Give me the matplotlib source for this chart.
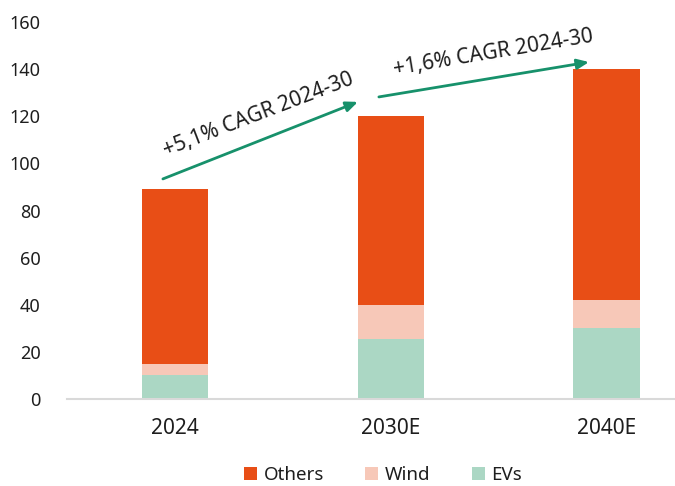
import matplotlib
matplotlib.use("Agg")
import matplotlib.pyplot as plt

categories = ["2024", "2030E", "2040E"]
evs = [10, 25.5, 30]
wind = [5, 14.5, 12]
others = [74, 80, 98]
yticks = [0, 20, 40, 60, 80, 100, 120, 140, 160]
cagr_labels = ["+5,1% CAGR 2024-30", "+1,6% CAGR 2024-30"]

c_others = "#E84E16"
c_wind = "#F7C8B8"
c_evs = "#ABD7C4"
c_arrow = "#17916B"
c_text = "#1E1E1E"

plt.rcParams['font.family'] = ['Noto Sans', 'DejaVu Sans']

fig = plt.figure(figsize=(6.75, 4.86), dpi=100)
ax = fig.add_axes([67 / 675, 87 / 486, 608 / 675, 377 / 486])

x = list(range(len(categories)))
w = 0.31
b1 = ax.bar(x, evs, w, color=c_evs, label="EVs", zorder=2)
b2 = ax.bar(x, wind, w, bottom=evs, color=c_wind, label="Wind", zorder=2)
bot2 = [a + b for a, b in zip(evs, wind)]
b3 = ax.bar(x, others, w, bottom=bot2, color=c_others, label="Others", zorder=2)

ax.set_xlim(-0.5, 2.315)
ax.set_ylim(0, 160)
ax.set_yticks(yticks)
ax.set_yticklabels([str(v) for v in yticks], fontsize=13, color=c_text)
ax.set_xticks(x)
ax.set_xticklabels(categories, fontsize=15, color=c_text)
ax.tick_params(axis='both', length=0)
ax.tick_params(axis='y', pad=19)
ax.tick_params(axis='x', pad=14)
for s in ["top", "right", "left"]:
    ax.spines[s].set_visible(False)
ax.spines["bottom"].set_color("#D9D9D9")
ax.spines["bottom"].set_linewidth(1.5)

# CAGR arrows
arrow_style = dict(arrowstyle="-|>,head_length=0.7,head_width=0.3",
                   color=c_arrow, lw=2, shrinkA=0, shrinkB=0)
ax.annotate("", xy=(0.847, 126.1), xytext=(-0.056, 93.4), arrowprops=arrow_style)
ax.annotate("", xy=(1.917, 143), xytext=(0.944, 128.2), arrowprops=arrow_style)
ax.text(0.384, 120.5, cagr_labels[0], rotation=21, ha="center", va="center",
        fontsize=15, color=c_text, rotation_mode="anchor")
ax.text(1.472, 146.9, cagr_labels[1], rotation=9.5, ha="center", va="center",
        fontsize=15, color=c_text, rotation_mode="anchor")

handles = [b3, b2, b1]
leg = fig.legend(handles, ["Others", "Wind", "EVs"], loc="center",
                 bbox_to_anchor=(383 / 675, 1 - 475 / 486), ncol=3, frameon=False,
                 fontsize=13.5, handlelength=0.7, handleheight=0.7,
                 handletextpad=0.35, columnspacing=2.2)
for t in leg.get_texts():
    t.set_color(c_text)

fig.savefig("out.png", dpi=100)
